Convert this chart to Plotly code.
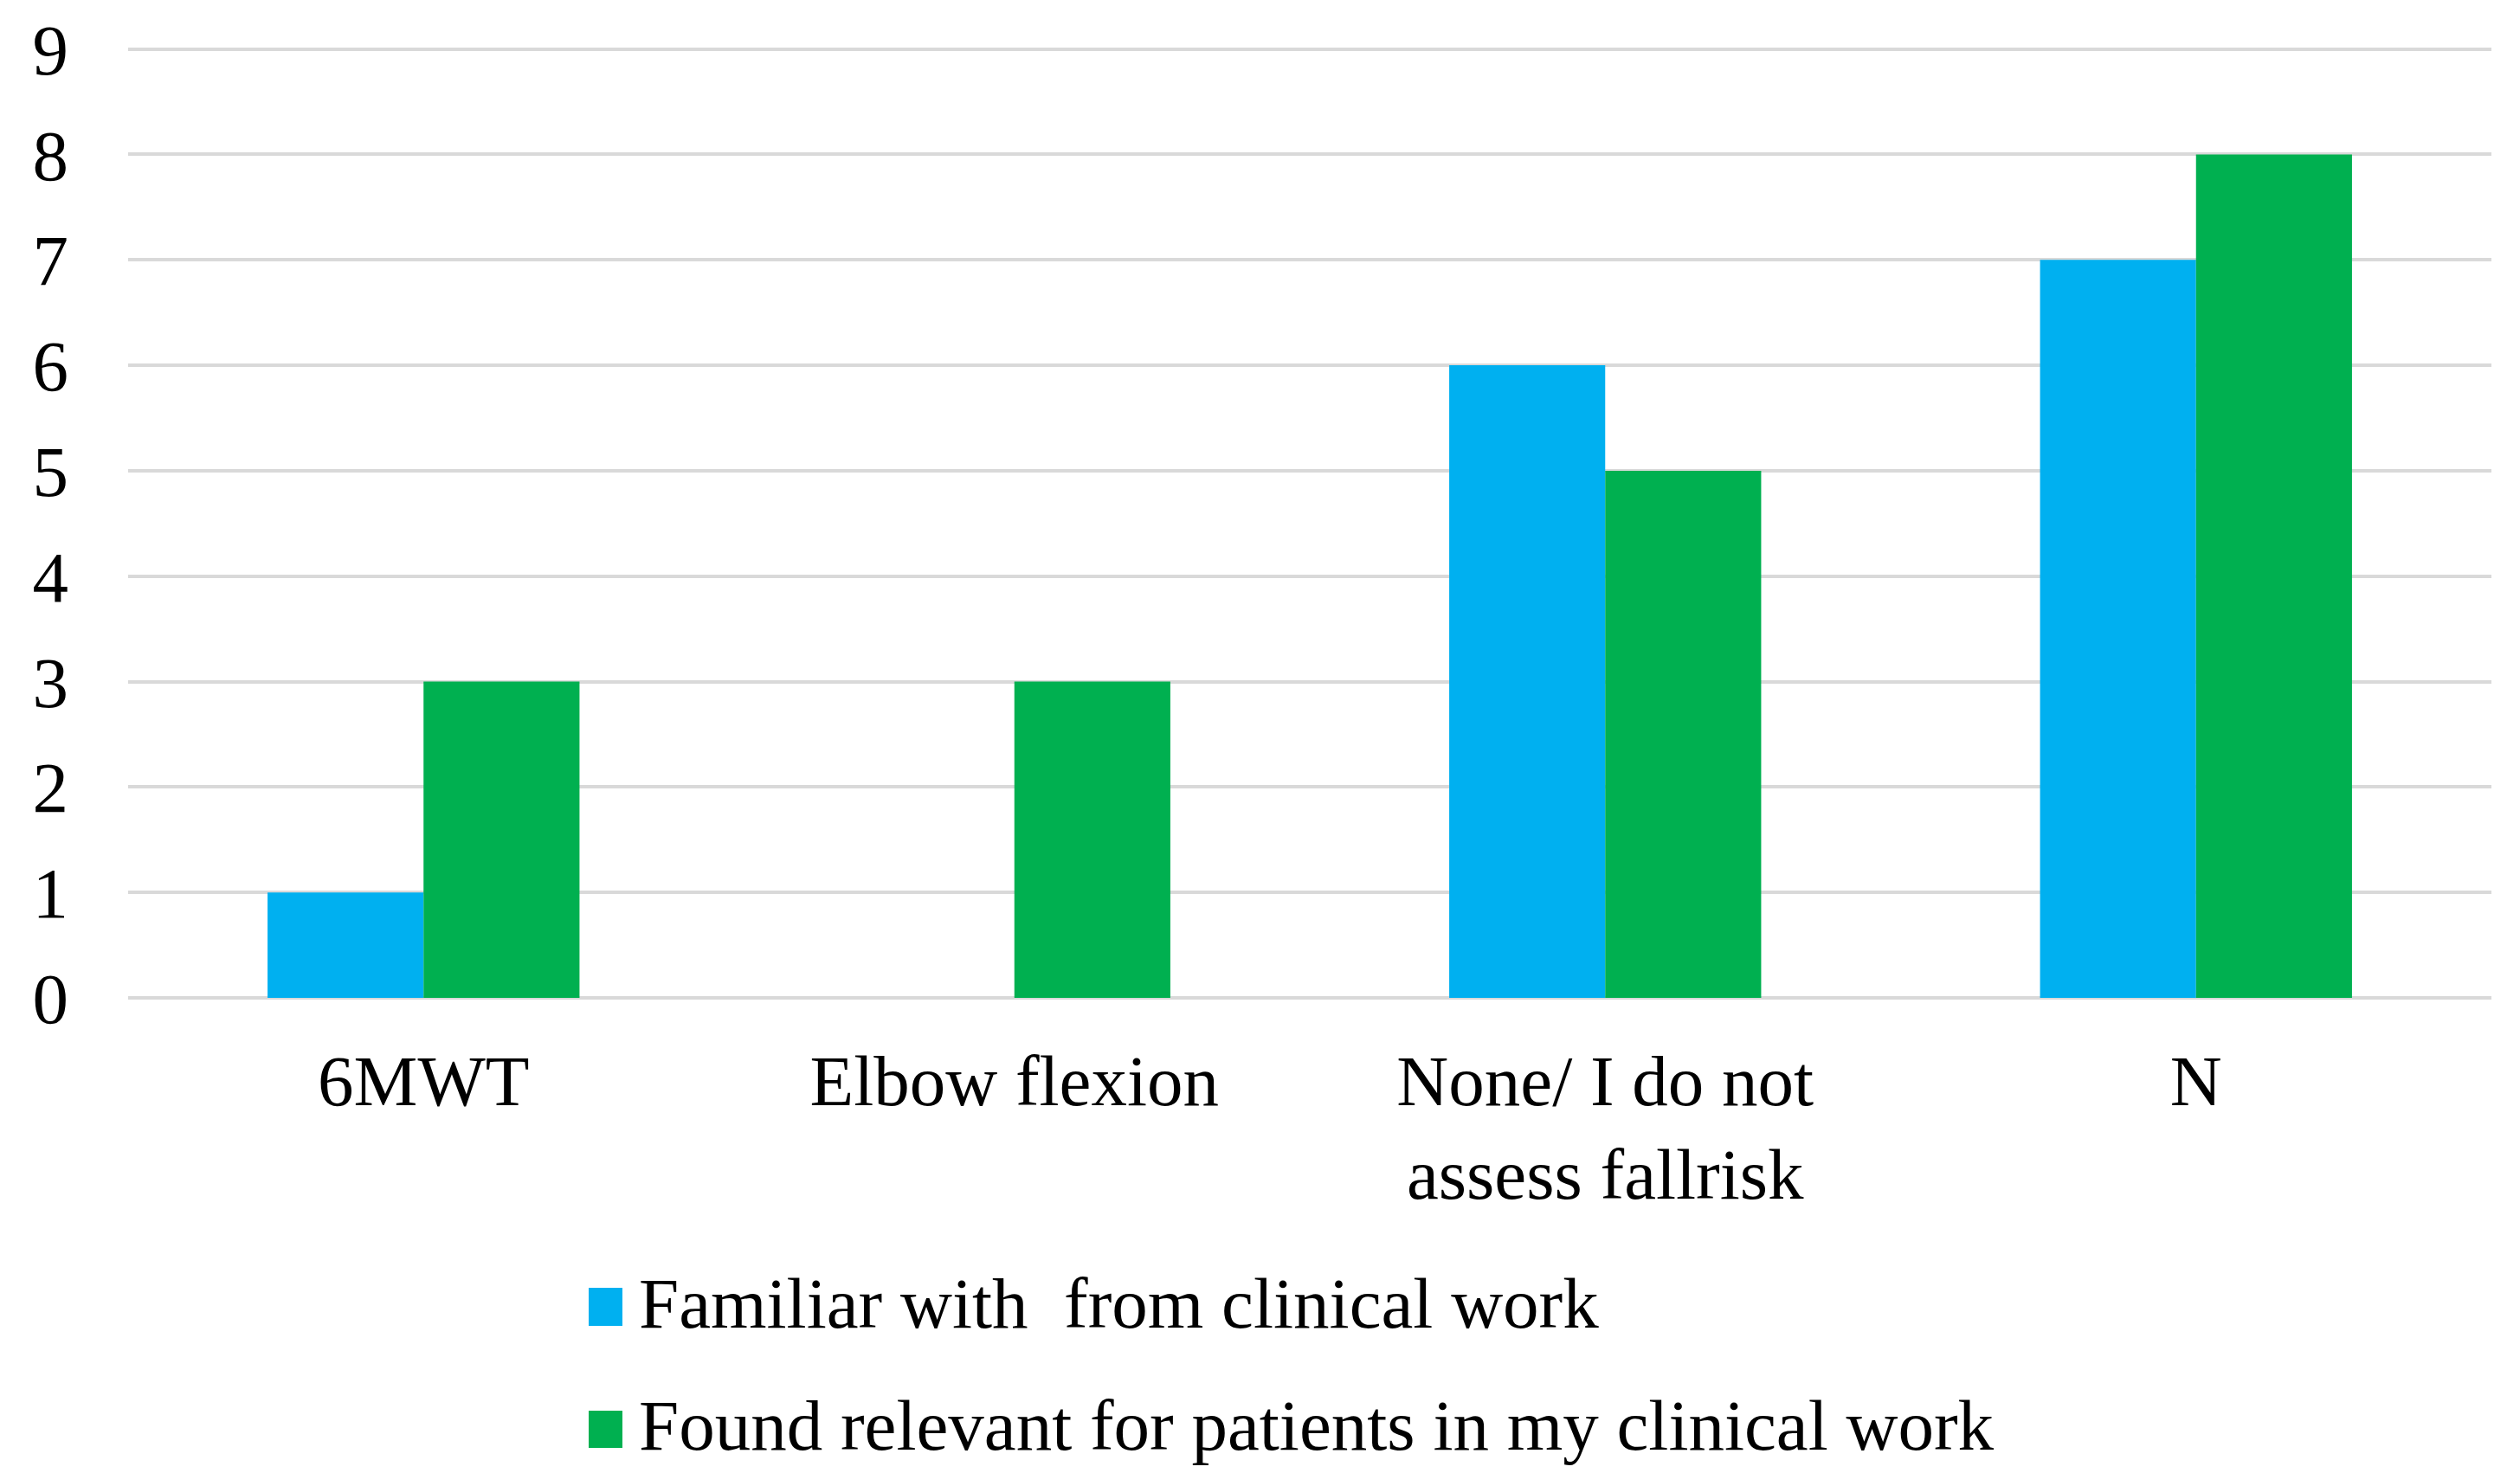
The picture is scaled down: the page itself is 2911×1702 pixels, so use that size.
import plotly.graph_objects as go

# ---- data ----
categories = ["6MWT", "Elbow flexion", "None/ I do not assess fallrisk", "N"]
tick_labels = ["6MWT", "Elbow flexion", "None/ I do not<br>assess fallrisk", "N"]
series_names = ["Familiar with\u00a0 from clinical work",
                "Found relevant for patients in my clinical work"]
familiar = [1, 0, 6, 7]
relevant = [3, 3, 5, 8]
series_colors = ["#00B0F0", "#00B050"]
y_ticks = [0, 1, 2, 3, 4, 5, 6, 7, 8, 9]

FONT = "Liberation Serif, Times New Roman, serif"
W, H = 2911, 1702
ML, MR, MT, MB = 148, 33, 53, 549
PW, PH = W - ML - MR, H - MT - MB
Y_MAX = 9.03

fig = go.Figure()
for name, vals, col in zip(series_names, [familiar, relevant], series_colors):
    fig.add_trace(go.Bar(x=categories, y=vals, name=name, marker_color=col,
                         marker_line_width=0, showlegend=False))

def px_x(p):
    return (p - ML) / PW

def px_y(p):
    return (H - MB - p) / PH

# custom legend (large square swatches like the original)
legend_rows = [(1488, 1532, 1506), (1630, 1673, 1647)]
shapes = []
annotations = []
for (top, bot, mid), name, col in zip(legend_rows, series_names, series_colors):
    shapes.append(dict(type="rect", xref="paper", yref="paper",
                       x0=px_x(680), x1=px_x(719), y0=px_y(bot), y1=px_y(top),
                       fillcolor=col, line_width=0))
    annotations.append(dict(xref="paper", yref="paper", x=px_x(736), y=px_y(mid),
                            xanchor="left", yanchor="middle", showarrow=False,
                            text=name, font=dict(family=FONT, size=83, color="black")))

fig.update_layout(
    width=W, height=H, autosize=False,
    margin=dict(l=ML, r=MR, t=MT, b=MB, pad=0),
    paper_bgcolor="white", plot_bgcolor="white",
    barmode="group", bargap=0.472, bargroupgap=0,
    font=dict(family=FONT, size=83, color="black"),
    shapes=shapes, annotations=annotations,
    showlegend=False,
)
fig.update_xaxes(tickvals=categories, ticktext=tick_labels, showgrid=False,
                 showline=False, ticks="", ticklabelstandoff=40,
                 tickfont=dict(family=FONT, size=83, color="black"))
fig.update_yaxes(range=[0, Y_MAX], tickvals=y_ticks, showgrid=True, gridcolor="#d9d9d9",
                 gridwidth=4, zeroline=True, zerolinecolor="#d9d9d9", zerolinewidth=4,
                 showline=False, ticks="", ticklabelstandoff=68,
                 tickfont=dict(family=FONT, size=83, color="black"))

fig.write_html("out.html", include_plotlyjs=True,
               config={"displayModeBar": False},
               post_script="document.body.style.margin='0';document.body.style.overflow='hidden';")
